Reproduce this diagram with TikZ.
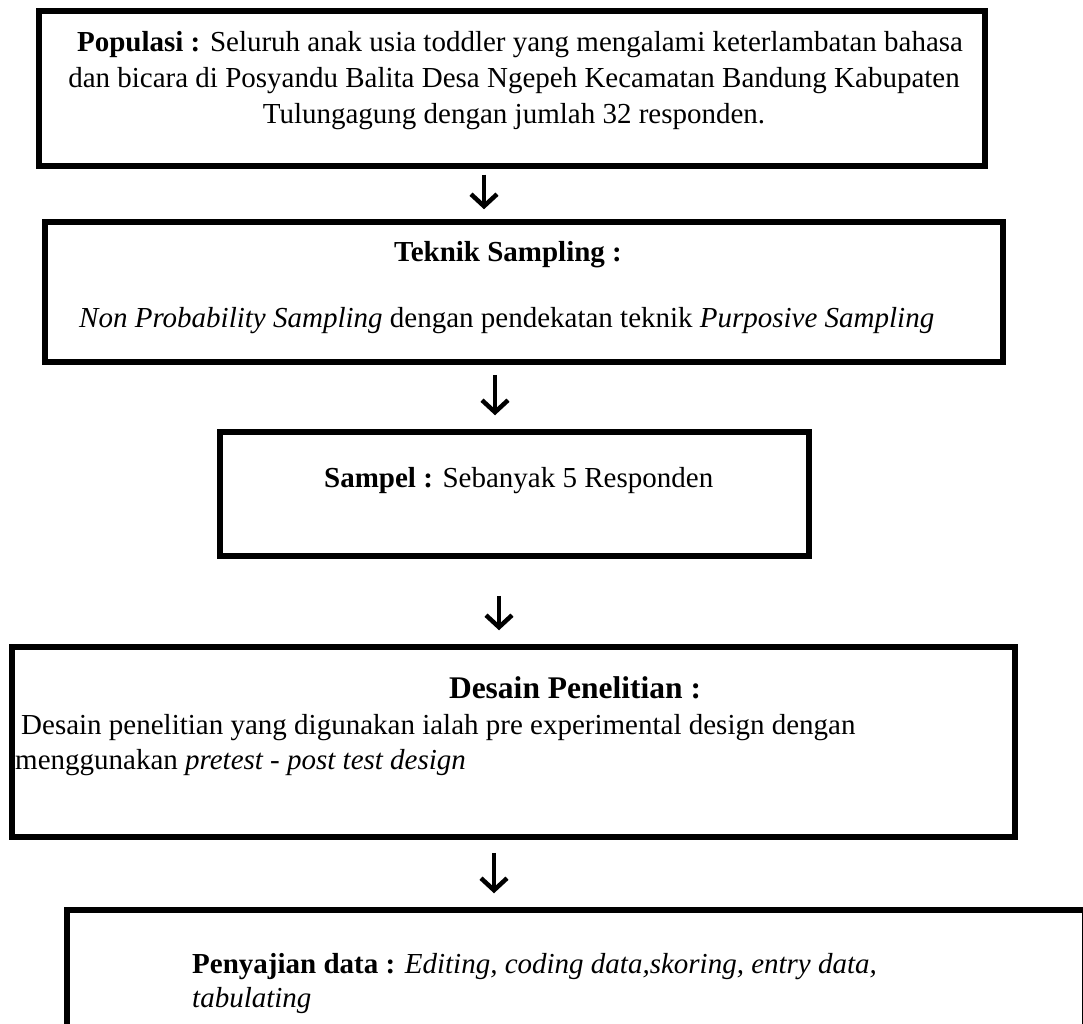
\documentclass[tikz,border=0pt]{standalone}
\usepackage{fontspec}
\setmainfont{Liberation Serif}
\usetikzlibrary{arrows.meta,calc}
\begin{document}
\begin{tikzpicture}[x=1pt,y=-1pt,
  box/.style={draw, line width=5.5pt, inner sep=0pt},
  txt/.style={inner sep=0pt, font=\fontsize{29}{35}\selectfont},
  bigtxt/.style={inner sep=0pt, font=\fontsize{31.5}{38}\selectfont},
  arr/.style={line width=4.5pt, -{Straight Barb[length=12pt,width=26pt]}}]
\clip (0,0) rectangle (1083,1024);
\fill[white] (0,0) rectangle (1083,1024);
% boxes
\node[box, minimum width=946pt, minimum height=155pt] (b1) at (512,88.5) {};
\node[box, minimum width=958pt, minimum height=140pt] (b2) at (524,292) {};
\node[box, minimum width=589pt, minimum height=124pt] (b3) at (514.5,494) {};
\node[box, minimum width=1003pt, minimum height=190pt] (b4) at (513.5,742) {};
\node[box, minimum width=1017.5pt, minimum height=150pt] (b5) at (575.75,985) {};
% arrow columns
\coordinate (x1) at (484,0);
\coordinate (x2) at (495,0);
\coordinate (x3) at (499,0);
\coordinate (x4) at (494,0);
\draw[arr] ($(b1.south -| x1)+(0,6)$) -- ($(b2.north -| x1)+(0,-10)$);
\draw[arr] ($(b2.south -| x2)+(0,10)$) -- ($(b3.north -| x2)+(0,-14)$);
\draw[arr] ($(b3.south -| x3)+(0,37)$) -- ($(b4.north -| x3)+(0,-14)$);
\draw[arr] ($(b4.south -| x4)+(0,13)$) -- ($(b5.north -| x4)+(0,-14)$);
% texts
\node[txt, anchor=mid] (t1a) at (520,49) {\textbf{Populasi :} Seluruh anak usia toddler yang mengalami keterlambatan bahasa};
\node[txt, anchor=mid] (t1b) at (514,85) {dan bicara di Posyandu Balita Desa Ngepeh Kecamatan Bandung Kabupaten};
\node[txt, anchor=mid] (t1c) at (514,121) {Tulungagung dengan jumlah 32 responden.};
\node[txt, anchor=mid] (t2a) at (508,259) {\textbf{Teknik Sampling :}};
\node[txt, anchor=mid west] (t2b) at (79,325) {\textit{Non Probability Sampling} dengan pendekatan teknik \textit{Purposive Sampling}};
\node[txt, anchor=mid west] (t3) at (324,485) {\textbf{Sampel :} Sebanyak 5 Responden};
\node[bigtxt, anchor=mid] (t4a) at (575,696) {\textbf{Desain Penelitian :}};
\node[txt, anchor=mid west] (t4b) at (21,732) {Desain penelitian yang digunakan ialah pre experimental design dengan};
\node[txt, anchor=mid west] (t4c) at (15,767) {menggunakan \textit{pretest - post test design}};
\node[txt, anchor=mid west] (t5a) at (192,971) {\textbf{Penyajian data :} \textit{Editing, coding data,skoring, entry data,}};
\node[txt, anchor=mid west] (t5b) at (192,1005) {\textit{tabulating}};
\end{tikzpicture}
\end{document}
